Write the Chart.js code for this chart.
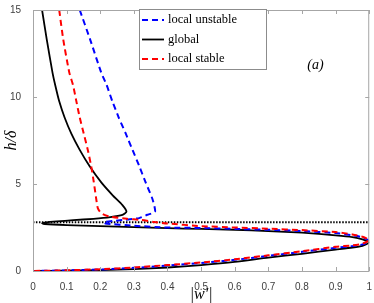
<!DOCTYPE html>
<html>
<head>
<meta charset="utf-8">
<script src="https://cdn.jsdelivr.net/npm/chart.js@4.4.1/dist/chart.umd.min.js"></script>
<style>
  html, body { margin: 0; padding: 0; background: #fff; }
  #wrap { width: 374px; height: 303px; }
</style>
</head>
<body>
<div id="wrap"><canvas id="c"></canvas></div>
<script>
const xTicks = [0, 0.1, 0.2, 0.3, 0.4, 0.5, 0.6, 0.7, 0.8, 0.9, 1];
const yTicks = [0, 5, 10, 15];
const thresholdY = 2.8;

// global (black), traced from the top down
const globalX = [0.027, 0.041, 0.058, 0.066, 0.078, 0.094, 0.114, 0.139, 0.168, 0.203, 0.237, 0.266, 0.278, 0.266, 0.23, 0.18, 0.12, 0.07, 0.035, 0.027,
  0.035, 0.1, 0.2, 0.3, 0.4, 0.5, 0.6, 0.7, 0.8, 0.9, 0.95, 0.98, 1.0, 0.98, 0.95, 0.9, 0.8, 0.7, 0.6, 0.5, 0.4, 0.3, 0.2, 0.1, 0];
const globalY = [15, 13.3, 11.4, 10.69, 9.75, 8.82, 7.89, 6.96, 6.03, 5.09, 4.35, 3.79, 3.41, 3.23, 3.1, 3.0, 2.92, 2.85, 2.78, 2.74,
  2.70, 2.64, 2.58, 2.52, 2.46, 2.42, 2.37, 2.29, 2.2, 2.05, 1.95, 1.82, 1.64, 1.45, 1.35, 1.23, 0.99, 0.77, 0.52, 0.34, 0.2, 0.11, 0.05, 0.015, 0];

// local stable (red)
const stableX = [0.078, 0.09, 0.108, 0.119, 0.129, 0.139, 0.151, 0.163, 0.173, 0.181, 0.188, 0.193, 0.203, 0.227, 0.28, 0.32, 0.36, 0.4,
  0.5, 0.6, 0.7, 0.8, 0.9, 0.95, 0.98, 1.0, 0.98, 0.95, 0.9, 0.8, 0.7, 0.6, 0.5, 0.4, 0.3, 0.2, 0.1, 0];
const stableY = [15, 13.3, 11.4, 10.69, 9.75, 8.82, 7.89, 6.96, 6.03, 5.09, 4.15, 3.6, 3.32, 3.13, 3.0, 2.94, 2.82, 2.73,
  2.58, 2.5, 2.43, 2.35, 2.24, 2.1, 1.97, 1.77, 1.57, 1.47, 1.39, 1.14, 0.9, 0.67, 0.49, 0.34, 0.2, 0.1, 0.04, 0];

// local unstable (blue)
const unstableX = [0.139, 0.17, 0.203, 0.219, 0.236, 0.255, 0.276, 0.296, 0.316, 0.335, 0.355, 0.363, 0.34, 0.316, 0.276, 0.24, 0.21, 0.215,
  0.3, 0.4, 0.5, 0.6, 0.7, 0.8, 0.9, 0.95, 0.98, 1.0, 0.98, 0.95, 0.9, 0.8, 0.7, 0.6, 0.5, 0.4, 0.3, 0.2, 0.1, 0];
const unstableY = [15, 13.3, 11.4, 10.69, 9.75, 8.82, 7.89, 6.96, 6.03, 5.09, 4.15, 3.41, 3.23, 3.04, 2.95, 2.88, 2.8, 2.73,
  2.6, 2.5, 2.47, 2.42, 2.37, 2.3, 2.18, 2.05, 1.93, 1.72, 1.53, 1.43, 1.33, 1.1, 0.87, 0.64, 0.46, 0.31, 0.18, 0.09, 0.035, 0];

const toPts = (xs, ys) => xs.map((x, i) => ({ x: x, y: ys[i] }));

const frameColor = '#a6a6a6';

const framePlugin = {
  id: 'frame',
  afterDatasetsDraw(chart) {
    const { ctx, chartArea: a, scales } = chart;
    ctx.save();
    ctx.strokeStyle = frameColor;
    ctx.lineWidth = 1;
    ctx.strokeRect(a.left + 0.5, a.top + 0.5, a.right - a.left - 1, a.bottom - a.top);
    ctx.beginPath();
    xTicks.forEach(v => {
      const px = Math.round(scales.x.getPixelForValue(v)) + 0.5;
      ctx.moveTo(px, a.bottom); ctx.lineTo(px, a.bottom - 4);
      ctx.moveTo(px, a.top); ctx.lineTo(px, a.top + 4);
    });
    yTicks.forEach(v => {
      const py = Math.round(scales.y.getPixelForValue(v)) + 0.5;
      ctx.moveTo(a.left, py); ctx.lineTo(a.left + 4, py);
      ctx.moveTo(a.right, py); ctx.lineTo(a.right - 4, py);
    });
    ctx.stroke();
    ctx.restore();
  },
  afterDraw(chart) {
    const { ctx, scales } = chart;
    ctx.save();
    // legend box
    const bx = 139.5, by = 9.5, bw = 127, bh = 60;
    ctx.fillStyle = '#fff';
    ctx.fillRect(bx, by, bw, bh);
    ctx.strokeStyle = '#8c8c8c';
    ctx.lineWidth = 1;
    ctx.strokeRect(bx, by, bw, bh);
    const order = [2, 0, 1];
    ctx.font = '12.5px "Liberation Serif", serif';
    ctx.textBaseline = 'middle';
    order.forEach((di, i) => {
      const ds = chart.data.datasets[di];
      const y = 20 + i * 19.5;
      ctx.strokeStyle = ds.borderColor;
      ctx.lineWidth = ds.borderWidth;
      ctx.setLineDash(ds.borderDash || []);
      ctx.beginPath();
      ctx.moveTo(142, y); ctx.lineTo(164, y);
      ctx.stroke();
      ctx.setLineDash([]);
      ctx.fillStyle = '#000';
      ctx.fillText(ds.label, 168, y);
    });
    // panel label
    ctx.font = 'italic 14px "Liberation Serif", serif';
    ctx.textAlign = 'center';
    ctx.fillText('(a)', scales.x.getPixelForValue(0.84), scales.y.getPixelForValue(11.8));
    ctx.restore();
  }
};

new Chart(document.getElementById('c'), {
  type: 'scatter',
  data: {
    datasets: [
      { label: 'global', data: toPts(globalX, globalY), borderColor: '#000', borderWidth: 1.8, order: 2 },
      { label: 'local stable', data: toPts(stableX, stableY), borderColor: '#ff0000', borderWidth: 2, borderDash: [6, 4], order: 0 },
      { label: 'local unstable', data: toPts(unstableX, unstableY), borderColor: '#0000ff', borderWidth: 2, borderDash: [6, 4], order: 1 },
      { label: 'threshold', data: [{ x: 0, y: thresholdY }, { x: 1, y: thresholdY }], borderColor: '#000', borderWidth: 2, borderDash: [1.5, 1.5], order: 3 }
    ].map(ds => Object.assign({ showLine: true, pointRadius: 0, tension: 0.2, fill: false }, ds))
  },
  options: {
    responsive: true,
    maintainAspectRatio: false,
    animation: false,
    devicePixelRatio: 1,
    layout: { padding: { top: 3, right: 2, left: 0, bottom: 0 } },
    plugins: { legend: { display: false }, tooltip: { enabled: false } },
    scales: {
      x: {
        type: 'linear', min: 0, max: 1,
        afterBuildTicks: s => { s.ticks = xTicks.map(v => ({ value: v })); },
        afterFit: s => { s.height = 32; },
        grid: { display: false },
        border: { display: false },
        ticks: { padding: 2, color: '#404040', font: { family: '"Liberation Sans", sans-serif', size: 10 }, callback: v => String(+v.toFixed(1)), maxRotation: 0, autoSkip: false },
        title: { display: true, text: '|w′|', color: '#000', font: { family: '"Liberation Serif", serif', size: 16, style: 'italic', lineHeight: 1 }, padding: { top: 0, bottom: 0 } }
      },
      y: {
        type: 'linear', min: 0, max: 15,
        afterBuildTicks: s => { s.ticks = yTicks.map(v => ({ value: v })); },
        afterFit: s => { s.width = 33; },
        grid: { display: false },
        border: { display: false },
        ticks: { padding: 4, color: '#404040', font: { family: '"Liberation Sans", sans-serif', size: 10 } },
        title: { display: true, text: 'h/δ', color: '#000', font: { family: '"Liberation Serif", serif', size: 16, style: 'italic' }, padding: { top: 2, bottom: 0 } }
      }
    }
  },
  plugins: [framePlugin]
});
</script>
</body>
</html>
